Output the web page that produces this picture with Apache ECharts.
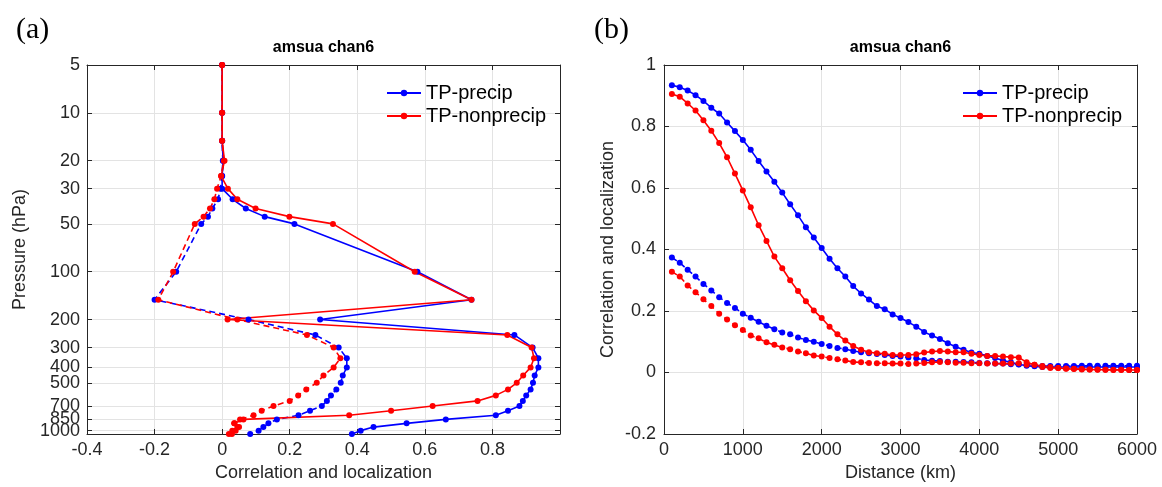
<!DOCTYPE html>
<html><head><meta charset="utf-8">
<script src="https://cdn.jsdelivr.net/npm/echarts@6/dist/echarts.min.js"></script>
<style>html,body{margin:0;padding:0;background:#fff}#c{width:1162px;height:487px}</style>
</head><body><div id="c"></div>
<script>
// ---------- Panel (a): vertical profiles ----------
const levels = [5,10,15,20,25,30,35,40,45,50,100,150,200,250,300,350,400,450,500,550,600,650,700,750,800,850,900,950,1000,1050];
const precipCorr    = [0,0,0,0.003,0,0,0.031,0.070,0.126,0.214,0.578,0.738,0.290,0.865,0.919,0.936,0.936,0.925,0.920,0.913,0.900,0.890,0.880,0.846,0.810,0.662,0.546,0.448,0.410,0.384];
const nonprecipCorr = [0,0,0,0.007,-0.003,0.017,0.045,0.099,0.199,0.328,0.570,0.738,0.016,0.844,0.916,0.923,0.913,0.891,0.872,0.846,0.810,0.756,0.623,0.500,0.376,0.063,0.036,0.050,0.040,0.029];
const precipLoc     = [0,0,0,0.002,0,-0.005,-0.012,-0.029,-0.042,-0.062,-0.136,-0.200,0.078,0.276,0.345,0.369,0.369,0.357,0.351,0.338,0.322,0.310,0.295,0.260,0.226,0.162,0.137,0.122,0.108,0.083];
const nonprecipLoc  = [0,0,0,0.005,-0.003,-0.015,-0.023,-0.036,-0.055,-0.081,-0.145,-0.189,0.045,0.251,0.330,0.350,0.330,0.300,0.280,0.249,0.225,0.200,0.152,0.117,0.093,0.053,0.036,0.045,0.030,0.020];
const pressureTicks = [5,10,20,30,50,100,200,300,400,500,700,850,1000];
const pressureLabelsMain = [5,10,20,30,50,100,200,300,400,500,700,1000];
const pressureLabelsExtra = [850];

// ---------- Panel (b): correlation vs distance ----------
const distance = [100,200,300,400,500,600,700,800,900,1000,1100,1200,1300,1400,1500,1600,1700,1800,1900,2000,
  2100,2200,2300,2400,2500,2600,2700,2800,2900,3000,3100,3200,3300,3400,3500,3600,3700,3800,3900,4000,
  4100,4200,4300,4400,4500,4600,4700,4800,4900,5000,5100,5200,5300,5400,5500,5600,5700,5800,5900,6000];
const precipHoriz = [0.934,0.928,0.917,0.902,0.883,0.861,0.842,0.813,0.785,0.756,0.724,0.688,0.654,0.620,0.585,0.547,0.511,0.472,0.439,0.405,
  0.370,0.339,0.312,0.281,0.257,0.237,0.216,0.206,0.189,0.177,0.164,0.149,0.132,0.120,0.109,0.095,0.084,0.074,0.065,0.061,
  0.054,0.047,0.039,0.033,0.027,0.022,0.020,0.018,0.018,0.018,0.018,0.018,0.018,0.018,0.018,0.018,0.018,0.018,0.018,0.018];
const nonprecipHoriz = [0.906,0.897,0.875,0.852,0.820,0.786,0.746,0.700,0.647,0.592,0.537,0.479,0.428,0.377,0.339,0.300,0.265,0.232,0.202,0.177,
  0.149,0.124,0.104,0.086,0.074,0.066,0.063,0.061,0.057,0.057,0.057,0.059,0.065,0.068,0.070,0.068,0.066,0.066,0.061,0.057,
  0.054,0.054,0.052,0.050,0.049,0.033,0.025,0.018,0.015,0.015,0.012,0.011,0.010,0.010,0.009,0.009,0.008,0.008,0.008,0.008];
const precipHorizLoc = [0.374,0.357,0.334,0.312,0.288,0.267,0.245,0.226,0.210,0.191,0.178,0.165,0.152,0.141,0.130,0.124,0.114,0.106,0.100,0.093,
  0.086,0.080,0.076,0.070,0.066,0.063,0.060,0.057,0.054,0.052,0.049,0.046,0.041,0.038,0.037,0.035,0.035,0.034,0.033,0.031,
  0.030,0.029,0.029,0.027,0.026,0.024,0.022,0.021,0.021,0.021,0.021,0.021,0.022,0.022,0.022,0.022,0.022,0.022,0.022,0.022];
const nonprecipHorizLoc = [0.328,0.312,0.283,0.261,0.238,0.216,0.191,0.172,0.154,0.138,0.120,0.111,0.098,0.090,0.081,0.076,0.068,0.063,0.055,0.052,
  0.047,0.043,0.039,0.034,0.033,0.031,0.030,0.030,0.029,0.029,0.028,0.029,0.031,0.033,0.034,0.033,0.032,0.032,0.030,0.030,
  0.029,0.029,0.029,0.029,0.030,0.025,0.025,0.021,0.018,0.015,0.013,0.012,0.011,0.010,0.010,0.009,0.009,0.009,0.008,0.008];

const BLUE = '#0000ff', RED = '#ff0000', INK = '#262626', GRID = '#e3e3e3';
const FONT = 'Liberation Sans, Arial, Helvetica, sans-serif';

function boxAxis(extra) {
  return Object.assign({
    axisLine: {show: true, onZero: false, lineStyle: {color: INK, width: 1}},
    axisTick: {show: true, inside: true, length: 5, lineStyle: {color: INK}},
    axisLabel: {show: false},
    splitLine: {show: false}
  }, extra);
}
function mainAxis(extra, label) {
  return Object.assign({
    axisLine: {show: true, onZero: false, lineStyle: {color: INK, width: 1}},
    axisTick: {show: true, inside: true, length: 5, lineStyle: {color: INK}},
    axisLabel: Object.assign({color: INK, fontSize: 18, fontFamily: FONT, hideOverlap: false, interval: 0,
      showMinLabel: true, showMaxLabel: true}, label || {}),
    splitLine: {show: true, lineStyle: {color: GRID, width: 1}},
    nameTextStyle: {color: INK, fontSize: 18, fontFamily: FONT},
    nameLocation: 'middle'
  }, extra);
}

const logY = {type: 'log', logBase: 10, inverse: true, min: 5, max: 1050};

function lineSeries(name, xi, yi, data, color, dashed) {
  return {
    name: name, type: 'line', xAxisIndex: xi, yAxisIndex: yi, data: data,
    symbol: 'circle', symbolSize: 6, showSymbol: true,
    itemStyle: {color: color}, color: color,
    lineStyle: {color: color, width: 1.6, type: dashed ? [6, 4] : 'solid'},
    emphasis: {disabled: true}, animation: false, clip: false
  };
}

const option = {
  animation: false,
  backgroundColor: '#fff',
  grid: [
    {left: 87, top: 65, width: 473, height: 372, containLabel: false},
    {left: 664, top: 65, width: 473, height: 372, containLabel: false}
  ],
  xAxis: [
    mainAxis({gridIndex: 0, type: 'value', min: -0.4, max: 1, interval: 0.2, position: 'bottom',
      name: 'Correlation and localization', nameGap: 30},
      {margin: 7, showMaxLabel: false, formatter: v => (Math.abs(v - 1) < 1e-9 ? '' : String(+v.toFixed(1)))}),
    boxAxis({gridIndex: 0, type: 'value', min: -0.4, max: 1, interval: 0.2, position: 'top'}),
    mainAxis({gridIndex: 1, type: 'value', min: 0, max: 6000, interval: 1000, position: 'bottom',
      name: 'Distance (km)', nameGap: 30}, {margin: 7, formatter: v => String(Math.round(v))}),
    boxAxis({gridIndex: 1, type: 'value', min: 0, max: 6000, interval: 1000, position: 'top'})
  ],
  yAxis: [
    mainAxis(Object.assign({gridIndex: 0, position: 'left', name: 'Pressure (hPa)', nameGap: 58,
      axisTick: {show: true, inside: true, length: 5, lineStyle: {color: INK}, customValues: pressureTicks}}, logY),
      {margin: 7, customValues: pressureLabelsMain, formatter: v => String(Math.round(v))}),
    boxAxis(Object.assign({gridIndex: 0, position: 'right',
      axisTick: {show: true, inside: true, length: 5, lineStyle: {color: INK}, customValues: pressureTicks}}, logY)),
    mainAxis({gridIndex: 1, type: 'value', min: -0.2, max: 1, interval: 0.2, position: 'left',
      name: 'Correlation and localization', nameGap: 47},
      {margin: 8, formatter: v => String(+v.toFixed(1))}),
    boxAxis({gridIndex: 1, type: 'value', min: -0.2, max: 1, interval: 0.2, position: 'right'}),
    Object.assign({gridIndex: 0, position: 'left',
      axisLine: {show: false}, axisTick: {show: false}, splitLine: {show: false},
      axisLabel: {show: true, color: INK, fontSize: 18, fontFamily: FONT, margin: 7,
        customValues: pressureLabelsExtra, formatter: v => String(Math.round(v))}}, logY)
  ],
  legend: [
    {data: ['TP-precip', 'TP-nonprecip'], orient: 'vertical', left: 381, top: 78,
     itemWidth: 34, itemHeight: 8, itemGap: 3,
     textStyle: {color: '#000', fontSize: 20, fontFamily: FONT, lineHeight: 20}, selectedMode: false},
    {data: ['TP-precip', 'TP-nonprecip'], orient: 'vertical', left: 957, top: 78,
     itemWidth: 34, itemHeight: 8, itemGap: 3,
     textStyle: {color: '#000', fontSize: 20, fontFamily: FONT, lineHeight: 20}, selectedMode: false}
  ],
  graphic: [
    {type: 'text', x: 323.5, y: 48, style: {text: 'amsua chan6', font: 'bold 16px ' + FONT, fill: '#000', textAlign: 'center', textVerticalAlign: 'middle'}},
    {type: 'text', x: 900.5, y: 48, style: {text: 'amsua chan6', font: 'bold 16px ' + FONT, fill: '#000', textAlign: 'center', textVerticalAlign: 'middle'}},
    {type: 'text', x: 16, y: 30, style: {text: '(a)', font: '30px Liberation Serif, Times New Roman, serif', fill: '#000', textAlign: 'left', textVerticalAlign: 'middle'}},
    {type: 'text', x: 594, y: 30, style: {text: '(b)', font: '30px Liberation Serif, Times New Roman, serif', fill: '#000', textAlign: 'left', textVerticalAlign: 'middle'}}
  ],
  series: [
    lineSeries('TP-precip', 0, 0, levels.map((p, i) => [precipCorr[i], p]), BLUE, false),
    lineSeries('TP-precip-loc', 0, 0, levels.map((p, i) => [precipLoc[i], p]), BLUE, true),
    lineSeries('TP-nonprecip', 0, 0, levels.map((p, i) => [nonprecipCorr[i], p]), RED, false),
    lineSeries('TP-nonprecip-loc', 0, 0, levels.map((p, i) => [nonprecipLoc[i], p]), RED, true),
    lineSeries('TP-precip', 2, 2, distance.map((d, i) => [d, precipHoriz[i]]), BLUE, false),
    lineSeries('TP-precip-loc', 2, 2, distance.map((d, i) => [d, precipHorizLoc[i]]), BLUE, true),
    lineSeries('TP-nonprecip', 2, 2, distance.map((d, i) => [d, nonprecipHoriz[i]]), RED, false),
    lineSeries('TP-nonprecip-loc', 2, 2, distance.map((d, i) => [d, nonprecipHorizLoc[i]]), RED, true)
  ]
};
const chart = echarts.init(document.getElementById('c'), null, {renderer: 'canvas'});
chart.setOption(option);
</script>
</body></html>
